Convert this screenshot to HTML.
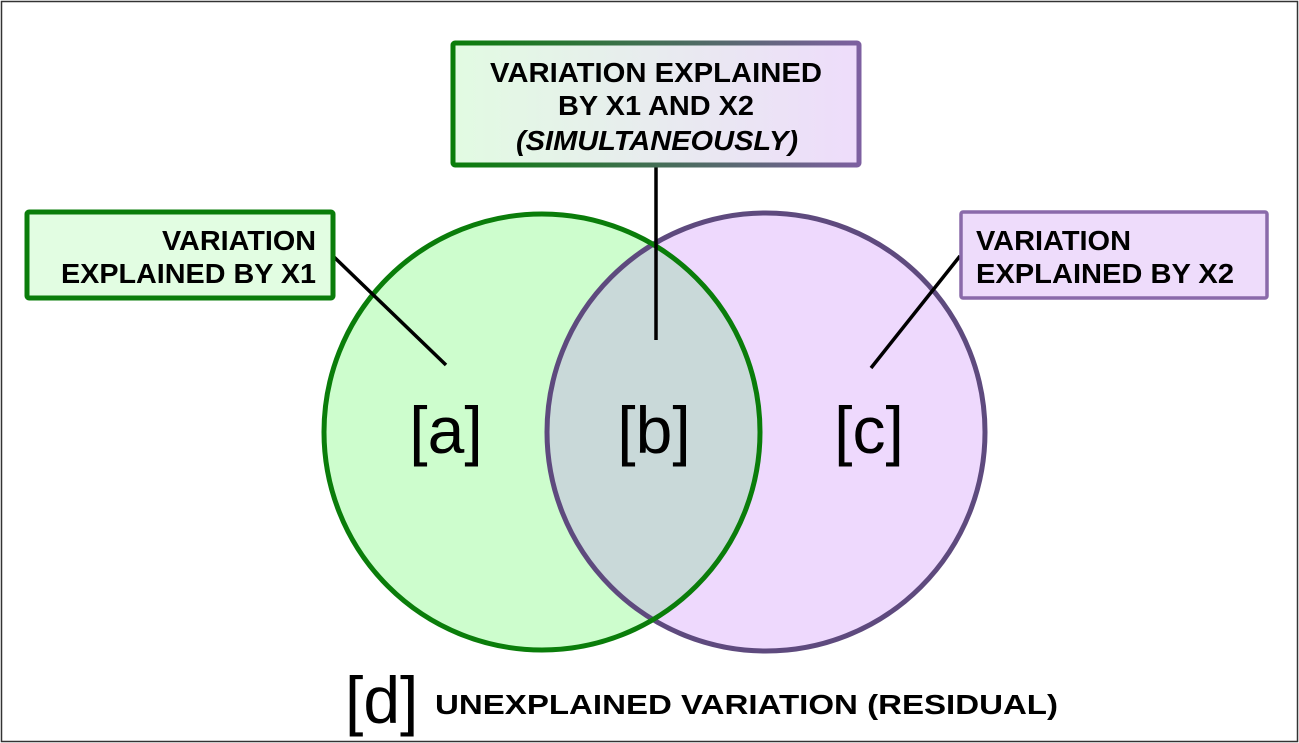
<!DOCTYPE html>
<html><head><style>
html,body{margin:0;padding:0;background:#fff;}
svg{display:block;}
text{font-family:"Liberation Sans",Arial,sans-serif;}
</style></head><body>
<svg width="1299" height="743" viewBox="0 0 1299 743" xmlns="http://www.w3.org/2000/svg">
<defs>
<linearGradient id="gs" x1="0" x2="1" y1="0" y2="0"><stop offset="0" stop-color="#0a7d0a"/><stop offset="1" stop-color="#7d5fa0"/></linearGradient>
<linearGradient id="gf" x1="0" x2="1" y1="0" y2="0"><stop offset="0" stop-color="#e2fbe2"/><stop offset="1" stop-color="#eedcfb"/></linearGradient>
<clipPath id="cg"><circle cx="542" cy="432" r="220"/></clipPath>
</defs>
<rect x="1.5" y="1.5" width="1296" height="740" fill="#fff" stroke="#333" stroke-width="1.5"/>
<circle cx="542" cy="432" r="220" fill="#cdfdcd"/>
<circle cx="766" cy="432" r="221" fill="#eed9fd"/>
<circle cx="766" cy="432" r="221" fill="#c9d9d9" clip-path="url(#cg)"/>
<circle cx="766" cy="432" r="219" fill="none" stroke="#5e4a7e" stroke-width="5"/>
<circle cx="542" cy="432" r="218" fill="none" stroke="#0a7d0a" stroke-width="5"/>
<line x1="333" y1="256" x2="446" y2="365" stroke="#000" stroke-width="3.5"/>
<line x1="656" y1="166" x2="656" y2="340" stroke="#000" stroke-width="3.5"/>
<line x1="960" y1="256" x2="871" y2="368" stroke="#000" stroke-width="3.5"/>
<rect x="27" y="212" width="306" height="86" rx="2" fill="#e2fde2" stroke="#0a7d0a" stroke-width="5"/>
<text font-size="28" font-weight="bold" text-anchor="end" x="316" y="250" textLength="154" lengthAdjust="spacingAndGlyphs">VARIATION</text>
<text font-size="28" font-weight="bold" text-anchor="end" x="316" y="283" textLength="255" lengthAdjust="spacingAndGlyphs">EXPLAINED BY X1</text>
<rect x="453" y="43" width="406" height="122" rx="2" fill="url(#gf)" stroke="url(#gs)" stroke-width="5"/>
<text font-size="28" font-weight="bold" x="490" y="82" textLength="332" lengthAdjust="spacingAndGlyphs">VARIATION EXPLAINED</text>
<text font-size="28" font-weight="bold" x="558" y="115" textLength="196" lengthAdjust="spacingAndGlyphs">BY X1 AND X2</text>
<text font-size="28" font-weight="bold" font-style="italic" x="516" y="150" textLength="282" lengthAdjust="spacingAndGlyphs">(SIMULTANEOUSLY)</text>
<rect x="961" y="212" width="306" height="86" rx="2" fill="#eedcfb" stroke="#8a6aaa" stroke-width="3.5"/>
<text font-size="28" font-weight="bold" x="976" y="250" textLength="155" lengthAdjust="spacingAndGlyphs">VARIATION</text>
<text font-size="28" font-weight="bold" x="976" y="283" textLength="258" lengthAdjust="spacingAndGlyphs">EXPLAINED BY X2</text>
<text font-size="66" text-anchor="middle" x="446" y="453">[a]</text>
<text font-size="66" text-anchor="middle" x="654" y="453">[b]</text>
<text font-size="66" text-anchor="middle" x="869" y="453">[c]</text>
<text font-size="66" x="345" y="723">[d]</text>
<text font-size="28" font-weight="bold" x="435" y="714" textLength="623" lengthAdjust="spacingAndGlyphs">UNEXPLAINED VARIATION (RESIDUAL)</text>
</svg>
</body></html>
